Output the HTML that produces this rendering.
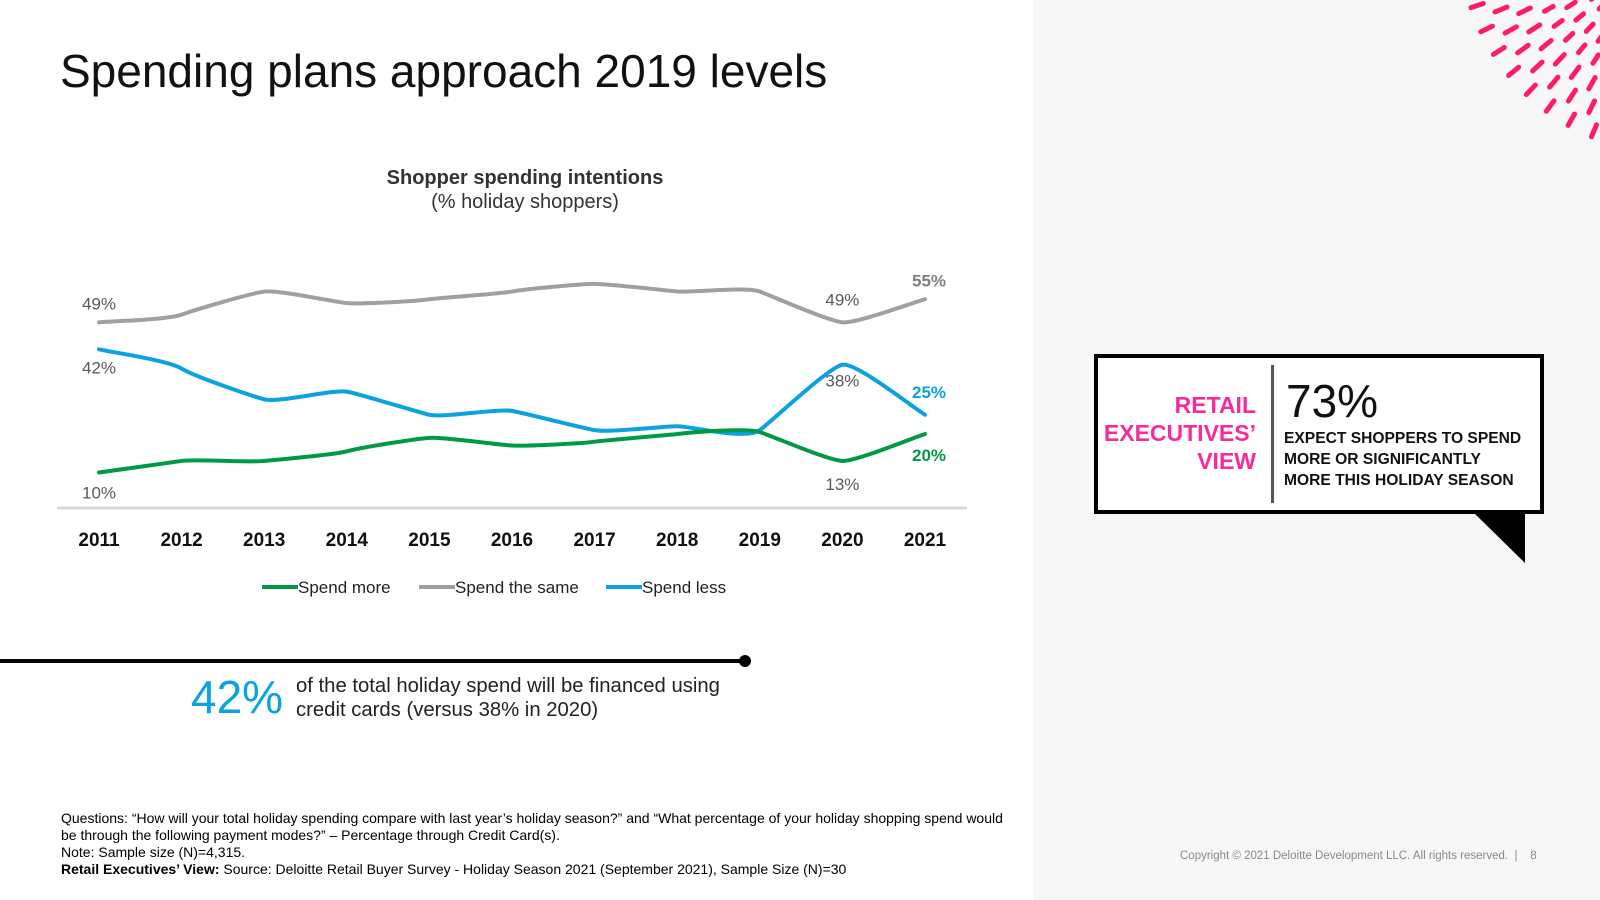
<!DOCTYPE html>
<html><head><meta charset="utf-8"><style>
body{margin:0;width:1600px;height:900px;position:relative;background:#fff;font-family:"Liberation Sans",sans-serif;overflow:hidden;color:#000}
.abs{position:absolute;white-space:nowrap}
</style></head><body>
<div class="abs" style="left:1033px;top:0;width:567px;height:900px;background:#f7f7f7"></div>
<svg class="abs" id="deco" style="left:1033px;top:0" width="567" height="200"></svg>
<div class="abs" style="left:60px;top:44px;font-size:46px;font-weight:300;color:#111">Spending plans approach 2019 levels</div>
<div class="abs" style="left:325px;width:400px;text-align:center;top:166px;font-size:20px;line-height:24px;color:#333"><b>Shopper spending intentions</b><br>(% holiday shoppers)</div>
<svg class="abs" id="chart" style="left:0;top:0" width="1000" height="620"></svg>
<div class="abs" style="left:0;top:659px;width:745px;height:4px;background:#000"></div>
<div class="abs" style="left:739px;top:655px;width:12px;height:12px;border-radius:50%;background:#000"></div>
<div class="abs" style="left:191px;top:670px;font-size:46px;font-weight:300;color:#0aa2e0">42%</div>
<div class="abs" style="left:296px;top:674px;font-size:20.3px;line-height:24px;color:#222">of the total holiday spend will be financed using<br>credit cards (versus 38% in 2020)</div>
<div class="abs" style="left:61px;top:810px;font-size:14px;line-height:17px;color:#000">Questions: “How will your total holiday spending compare with last year’s holiday season?” and “What percentage of your holiday shopping spend would<br>be through the following payment modes?” – Percentage through Credit Card(s).<br>Note: Sample size (N)=4,315.<br><b>Retail Executives’ View:</b> Source: Deloitte Retail Buyer Survey - Holiday Season 2021 (September 2021), Sample Size (N)=30</div>
<div class="abs" style="left:1180px;top:850px;font-size:11.5px;color:#888">Copyright © 2021 Deloitte Development LLC. All rights reserved. &nbsp;| &nbsp;&nbsp;&nbsp;8</div>
<div class="abs" style="left:1094px;top:354px;width:442px;height:152px;border:4px solid #000;background:#fff"></div>
<svg class="abs" style="left:1470px;top:512px" width="60" height="55"><polygon points="3,0 55,0 55,51" fill="#000"/></svg>
<div class="abs" style="left:1271px;top:365px;width:3px;height:138px;background:#555"></div>
<div class="abs" style="left:1100px;width:156px;text-align:right;top:391px;font-size:23px;line-height:28px;font-weight:bold;color:#f72c9c">RETAIL<br>EXECUTIVES’<br>VIEW</div>
<div class="abs" style="left:1286px;top:374px;font-size:46px;font-weight:300;color:#111">73%</div>
<div class="abs" style="left:1284px;top:428px;font-size:15.6px;line-height:21px;font-weight:bold;color:#111">EXPECT SHOPPERS TO SPEND<br>MORE OR SIGNIFICANTLY<br>MORE THIS HOLIDAY SEASON</div>
<script>
const years=["2011","2012","2013","2014","2015","2016","2017","2018","2019","2020","2021"];
const spendMore=[10,13,13,15.5,19,17,18,20,20.5,13,20];
const spendSame=[49,51,57,54,55,57,59,57,57,49,55];
const spendLess=[42,37,29,31,25,26,21,22,21,38,25];
const labelsMore=[[0,"10%"],[9,"13%"],[10,"20%"]];
const labelsSame=[[0,"49%"],[9,"49%"],[10,"55%"]];
const labelsLess=[[0,"42%"],[9,"38%"],[10,"25%"]];
const NS="http://www.w3.org/2000/svg";
const svg=document.getElementById('chart');
const x=i=>99+i*(925-99)/(years.length-1);
const y=v=>511-v*3.85;
function el(t,a){const e=document.createElementNS(NS,t);for(const k in a)e.setAttribute(k,a[k]);svg.appendChild(e);return e;}
const ax=el('line',{x1:57,x2:967,y1:508,y2:508,stroke:'#d9d9d9','stroke-width':3});


years.forEach((yr,i)=>{const t=el('text',{x:x(i),y:546,'text-anchor':'middle','font-size':19,'font-weight':'bold',fill:'#111'});t.textContent=yr;

});
function path(vals){let d=`M${x(0)},${y(vals[0])}`;for(let i=0;i<vals.length-1;i++){const p0=vals[Math.max(i-1,0)],p1=vals[i],p2=vals[i+1],p3=vals[Math.min(i+2,vals.length-1)];const dx=x(1)-x(0);d+=` C${x(i)+dx/6},${y(p1+(p2-p0)/6)} ${x(i+1)-dx/6},${y(p2-(p3-p1)/6)} ${x(i+1)},${y(p2)}`;}return d;}
const series=[[spendSame,'#a0a0a0','spend-the-same-line',labelsSame],[spendLess,'#0aa2e0','spend-less-line',labelsLess],[spendMore,'#009a44','spend-more-line',labelsMore]];
series.forEach(([v,c,n])=>{const p=el('path',{d:path(v),fill:'none',stroke:c,'stroke-width':4,'stroke-linecap':'round'});

});
function lab(arr,vals,color,offs){arr.forEach(([i,txt],k)=>{const last=i===vals.length-1;const t=el('text',{x:x(i)+(last?4:0),y:y(vals[i])+offs[k],'text-anchor':'middle','font-size':17,fill:last?color:'#595959','font-weight':last?'bold':'normal'});t.textContent=txt;

});}
lab(labelsSame,spendSame,'#7f7f7f',[-13,-17,-13]);
lab(labelsLess,spendLess,'#0aa2e0',[24,22,-17]);
lab(labelsMore,spendMore,'#009a44',[26,29,27]);
const leg=[['#009a44','Spend more',262],['#a0a0a0','Spend the same',419],['#0aa2e0','Spend less',606]];
leg.forEach(([c,t,lx])=>{const l=el('line',{x1:lx,x2:lx+36,y1:587,y2:587,stroke:c,'stroke-width':4});


const tx=el('text',{x:lx+36,y:593,'font-size':17,fill:'#222'});tx.textContent=t;

});
const d=document.getElementById('deco');
const cx=640,cy=-60;
for(let r=0;r<6;r++){const R=95+r*21;for(let a=95;a<=195;a+=7){const off=(r%2)*3.5;const ang=(a+off)*Math.PI/180;const x1=cx+Math.cos(ang)*R,y1=cy+Math.sin(ang)*R;const len=r<1?6:(r<3?10:13);const x2=cx+Math.cos(ang)*(R+len),y2=cy+Math.sin(ang)*(R+len);
const ln=document.createElementNS(NS,'line');ln.setAttribute('x1',x1);ln.setAttribute('y1',y1);ln.setAttribute('x2',x2);ln.setAttribute('y2',y2);ln.setAttribute('stroke','#ff1a6e');ln.setAttribute('stroke-width',5);ln.setAttribute('stroke-linecap','round');d.appendChild(ln);}}
</script>
</body></html>
